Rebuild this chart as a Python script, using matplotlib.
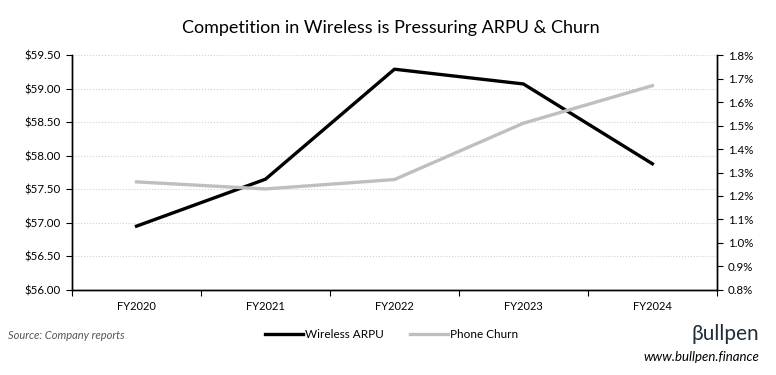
import numpy as np
import matplotlib.pyplot as plt
from matplotlib.ticker import FuncFormatter, FixedLocator

plt.rcParams['font.family'] = ['Lato', 'DejaVu Sans']

# data
anos = ['FY2020', 'FY2021', 'FY2022', 'FY2023', 'FY2024']
arpu = [56.95, 57.65, 59.29, 59.07, 57.88]
churn = [1.26, 1.23, 1.27, 1.51, 1.67]

fig = plt.figure(figsize=(7.76, 3.75), dpi=100)
ax = fig.add_axes([0.0928, 0.227, 0.831, 0.626])
ax2 = ax.twinx()

x = np.arange(len(anos))
l1, = ax.plot(x, arpu, color='black', lw=2.4, label='Wireless ARPU', zorder=3)
l2, = ax2.plot(x, churn, color='#bfbfbf', lw=2.4, label='Phone Churn', zorder=3)

ax.set_xlim(-0.5, len(anos) - 0.5)
ax.set_ylim(56, 59.5)
ax.set_yticks(np.arange(56, 59.51, 0.5))
ax.yaxis.set_major_formatter(FuncFormatter(lambda v, p: f"${v:.2f}"))
ax2.set_ylim(0.8, 1.8)
ax2.set_yticks(np.arange(0.8, 1.801, 0.1))
ax2.yaxis.set_major_formatter(FuncFormatter(lambda v, p: f"{v:.1f}%"))

ax.set_xticks(x)
ax.set_xticklabels(anos)
ax.tick_params(axis='x', length=0, pad=8, labelsize=8)
ax.xaxis.set_minor_locator(FixedLocator(np.arange(-0.5, len(anos), 1)))
ax.tick_params(axis='x', which='minor', length=4, width=0.8, direction='out')
ax.tick_params(axis='y', length=4, width=0.8, labelsize=8.3, pad=4)
ax2.tick_params(axis='y', length=4, width=0.8, labelsize=8.3, pad=4)

ax.grid(axis='y', color='#d0d0d0', lw=0.8, ls=':')
ax.set_axisbelow(True)
for a in (ax, ax2):
    a.spines['top'].set_visible(False)
    a.spines['left'].set_linewidth(1)
    a.spines['right'].set_linewidth(1)
    a.spines['bottom'].set_linewidth(1)

fig.text(0.503, 0.925, 'Competition in Wireless is Pressuring ARPU & Churn',
         ha='center', va='center', fontsize=13)

fig.legend(handles=[l1, l2], loc='center', bbox_to_anchor=(0.505, 0.108),
           ncol=2, frameon=False, fontsize=8.5, handlelength=3.2,
           handletextpad=0.2, columnspacing=2.2)

fig.text(0.01, 0.105, 'Source: Company reports', fontsize=8, style='italic',
         color='#555555', va='center')
fig.text(0.978, 0.11, 'βullpen', fontsize=15, color='#1f2d3d',
         ha='right', va='center')
fig.text(0.978, 0.048, 'www.bullpen.finance', fontsize=9.5, style='italic',
         ha='right', va='center')

fig.savefig('out.png', dpi=100)
